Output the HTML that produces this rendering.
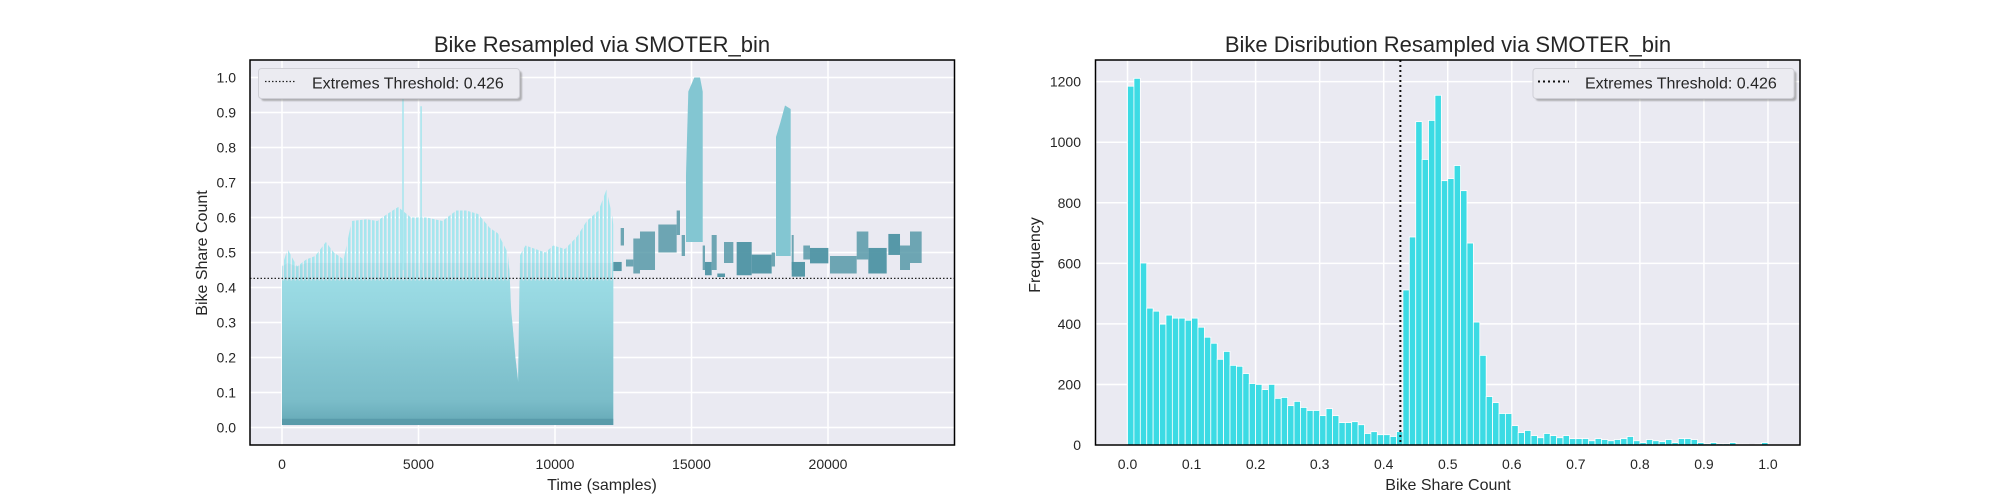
<!DOCTYPE html>
<html><head><meta charset="utf-8">
<style>
html,body{margin:0;padding:0;background:#fff;}
svg{display:block;font-family:"Liberation Sans",Arial,sans-serif;}
</style></head>
<body>
<svg id="fig" width="2000" height="500" viewBox="0 0 2000 500">
  <defs>
    <linearGradient id="dotGrad" x1="0" y1="1" x2="0" y2="0">
      <stop offset="0" stop-color="#4f93a3" stop-opacity="0.75"/>
      <stop offset="0.15" stop-color="#4f93a3" stop-opacity="0.5"/>
      <stop offset="0.4" stop-color="#4f93a3" stop-opacity="0.38"/>
      <stop offset="0.7" stop-color="#4f93a3" stop-opacity="0.2"/>
      <stop offset="1" stop-color="#4f93a3" stop-opacity="0.08"/>
    </linearGradient>
    <pattern id="stripes" patternUnits="userSpaceOnUse" width="4" height="10">
      <rect x="0" y="0" width="2.6" height="10" fill="#a6e6ee"/>
    </pattern>
    <filter id="sh" x="-10%" y="-10%" width="130%" height="150%"><feGaussianBlur stdDeviation="0.8"/></filter>
  </defs>
  <rect x="250" y="60" width="704.5" height="385" fill="#eaeaf2"/>
  <rect x="1095.5" y="60" width="704.5" height="385" fill="#eaeaf2"/>
  <g id="lgrid"></g>
  <g id="rgrid"></g>
  <g id="lmarks"></g>
  <g id="rmarks"></g>
  <line x1="250" x2="954.5" y1="278.4" y2="278.4" stroke="#222" stroke-width="1.2" stroke-dasharray="1.5,2"/>
  <line id="rthr" x1="1400" x2="1400" y1="60" y2="445" stroke="#111" stroke-width="2" stroke-dasharray="2,3"/>
  <rect x="250" y="60" width="704.5" height="385" fill="none" stroke="#000" stroke-width="1.5"/>
  <rect x="1095.5" y="60" width="704.5" height="385" fill="none" stroke="#000" stroke-width="1.5"/>
  <g id="lticks" font-size="14" fill="#262626"></g>
  <g id="rticks" font-size="14" fill="#262626"></g>
  <text x="602" y="52" font-size="22" text-anchor="middle" fill="#262626">Bike Resampled via SMOTER_bin</text>
  <text x="1448" y="52" font-size="22" text-anchor="middle" fill="#262626">Bike Disribution Resampled via SMOTER_bin</text>
  <text x="602" y="490" font-size="16" text-anchor="middle" fill="#262626">Time (samples)</text>
  <text x="1448" y="490" font-size="16" text-anchor="middle" fill="#262626">Bike Share Count</text>
  <text transform="translate(207,253) rotate(-90)" font-size="16" text-anchor="middle" fill="#262626">Bike Share Count</text>
  <text transform="translate(1040,255) rotate(-90)" font-size="16" text-anchor="middle" fill="#262626">Frequency</text>
  <g>
    <rect x="261" y="71" width="261" height="30" rx="3" fill="#888" opacity="0.6" filter="url(#sh)"/>
    <rect x="258.5" y="68.5" width="261" height="30" rx="3" fill="#ebebf1" stroke="#cfcfd6" stroke-width="1"/>
    <line x1="265" x2="296" y1="81.5" y2="81.5" stroke="#222" stroke-width="1.2" stroke-dasharray="1.5,2"/>
    <text x="312" y="88.5" font-size="16" fill="#262626">Extremes Threshold: 0.426</text>
  </g>
  <g>
    <rect x="1535.5" y="71" width="261" height="30" rx="3" fill="#888" opacity="0.6" filter="url(#sh)"/>
    <rect x="1533" y="68.5" width="261" height="30" rx="3" fill="#ebebf1" stroke="#cfcfd6" stroke-width="1"/>
    <line x1="1538" x2="1569" y1="81.5" y2="81.5" stroke="#111" stroke-width="2" stroke-dasharray="2,3"/>
    <text x="1585" y="88.5" font-size="16" fill="#262626">Extremes Threshold: 0.426</text>
  </g>
</svg>
<script>
// ---- Left chart data ----
const envSamples = [0,203,550,884,1218,1608,1898,2260,2549,3099,3490,3853,4256,4721,5300,5879,6385,6747,7183,7615,7905,8267,8330,8400,8550,8650,8703,8919,9282,9645,9934,10366,10802,11164,11597,11886,12106,12133];
const envValues  = [0.46,0.51,0.46,0.48,0.49,0.53,0.50,0.48,0.59,0.595,0.59,0.61,0.63,0.60,0.60,0.59,0.62,0.62,0.61,0.57,0.555,0.50,0.45,0.33,0.20,0.13,0.49,0.52,0.51,0.50,0.52,0.51,0.545,0.59,0.62,0.68,0.60,0.58];
const spikeSamples = [4432,5095];
const spikeValues  = [0.94,0.918];
const clusterStart = [12136,12405,12600,12869,13113,13785,14456,14639,15409,15494,15738,15946,16190,16654,17204,17936,18669,18669,19096,19340,20073,21050,21477,22210,22637,23003];
const clusterEnd   = [12442,12527,12869,13113,13663,14456,14578,14761,15494,15738,15922,16227,16532,17204,17936,18058,18730,19157,19340,20012,21050,21477,22149,22637,23003,23430];
const clusterLow   = [0.447,0.52,0.46,0.44,0.45,0.50,0.55,0.49,0.45,0.435,0.45,0.43,0.47,0.435,0.44,0.46,0.45,0.431,0.48,0.469,0.44,0.48,0.44,0.493,0.45,0.47];
const clusterHigh  = [0.473,0.57,0.48,0.54,0.56,0.58,0.62,0.55,0.52,0.473,0.55,0.44,0.53,0.53,0.494,0.50,0.55,0.473,0.52,0.513,0.49,0.56,0.513,0.553,0.52,0.56];
const clusterDense = [1,0,0,0,0,0,0,0,0,1,0,1,0,1,1,0,0,1,0,1,0,0,1,1,0,0];
const peak1Samples = [14798,14884,15103,15311,15409];
const peak1Top     = [0.72,0.96,1.0,1.0,0.96];
const peak1Bottom  = 0.53;
const peak2Samples = [18095,18250,18425,18632];
const peak2Top     = [0.83,0.87,0.92,0.91];
const peak2Bottom  = 0.49;
const leftXTicks = [0,5000,10000,15000,20000];
const leftXTickLabels = ["0","5000","10000","15000","20000"];
const leftYTicks = [0,0.1,0.2,0.3,0.4,0.5,0.6,0.7,0.8,0.9,1.0];
const leftYTickLabels = ["0.0","0.1","0.2","0.3","0.4","0.5","0.6","0.7","0.8","0.9","1.0"];
const threshold = 0.426;
// ---- Right chart data ----
const binCounts = [1185,1211,601,452,442,399,429,419,419,412,419,389,356,336,283,309,263,260,236,203,200,183,200,154,157,130,144,124,114,114,97,120,97,74,74,77,67,38,44,34,34,28,44,512,687,1068,943,1072,1155,873,880,923,840,667,406,296,160,140,104,104,64,41,48,31,24,38,31,24,31,21,21,21,14,21,18,14,18,21,28,14,8,18,14,11,18,8,21,21,18,8,4,8,4,4,8,3,3,0,3,8];
const rightXTicks = [0,0.1,0.2,0.3,0.4,0.5,0.6,0.7,0.8,0.9,1.0];
const rightXTickLabels = ["0.0","0.1","0.2","0.3","0.4","0.5","0.6","0.7","0.8","0.9","1.0"];
const rightYTicks = [0,200,400,600,800,1000,1200];
const rightYTickLabels = ["0","200","400","600","800","1000","1200"];

const NS="http://www.w3.org/2000/svg";
function mk(tag,attrs,parent){const e=document.createElementNS(NS,tag);for(const k in attrs)e.setAttribute(k,attrs[k]);parent.appendChild(e);return e;}
const LX0=250,LX1=954.5,AY0=445,AY1=60;
const lxmin=-1172,lxmax=24633,lymin=-0.05,lymax=1.05;
function lx(s){return LX0+(s-lxmin)/(lxmax-lxmin)*(LX1-LX0);}
function ly(v){return AY0-(v-lymin)/(lymax-lymin)*(AY0-AY1);}
const RX0=1095.5,RX1=1800;
const rxmin=-0.05,rxmax=1.05;
const rymax=Math.max(...binCounts)*1.05;
function rx(v){return RX0+(v-rxmin)/(rxmax-rxmin)*(RX1-RX0);}
function ry(c){return AY0-c/rymax*(AY0-AY1);}

const lgrid=document.getElementById('lgrid'),rgrid=document.getElementById('rgrid');
const lmarks=document.getElementById('lmarks'),rmarks=document.getElementById('rmarks');
const lticks=document.getElementById('lticks'),rticks=document.getElementById('rticks');

leftXTicks.forEach((t,i)=>{
  const g=mk('line',{x1:lx(t),x2:lx(t),y1:AY1,y2:AY0,stroke:'#fff','stroke-width':1.5},lgrid);
  
  
  const tx=mk('text',{x:lx(t),y:469,'text-anchor':'middle'},lticks);
  tx.textContent=leftXTickLabels[i];
  
  
});
leftYTicks.forEach((t,i)=>{
  const g=mk('line',{x1:LX0,x2:LX1,y1:ly(t),y2:ly(t),stroke:'#fff','stroke-width':1.5},lgrid);
  
  
  const tx=mk('text',{x:236,y:ly(t)+5,'text-anchor':'end'},lticks);
  tx.textContent=leftYTickLabels[i];
  
  
});
rightXTicks.forEach((t,i)=>{
  const g=mk('line',{x1:rx(t),x2:rx(t),y1:AY1,y2:AY0,stroke:'#fff','stroke-width':1.5},rgrid);
  
  
  const tx=mk('text',{x:rx(t),y:469,'text-anchor':'middle'},rticks);
  tx.textContent=rightXTickLabels[i];
  
  
});
rightYTicks.forEach((t,i)=>{
  const g=mk('line',{x1:RX0,x2:RX1,y1:ry(t),y2:ry(t),stroke:'#fff','stroke-width':1.5},rgrid);
  
  
  const tx=mk('text',{x:1081,y:ry(t)+5,'text-anchor':'end'},rticks);
  tx.textContent=rightYTickLabels[i];
  
  
});

const base=0.007;
function poly(vals,cap){
  let p=envSamples.map((s,i)=>lx(s)+','+ly(Math.min(vals[i],cap)));
  p.push(lx(envSamples[envSamples.length-1])+','+ly(base));
  p.push(lx(envSamples[0])+','+ly(base));
  return p.join(' ');
}
const env=mk('polygon',{points:poly(envValues,2),fill:'url(#stripes)'},lmarks);


const core=mk('polygon',{points:poly(envValues,0.42),fill:'#a6e6ee'},lmarks);


const dots=mk('polygon',{points:poly(envValues,0.47),fill:'url(#dotGrad)'},lmarks);


const band=mk('rect',{x:lx(envSamples[0]),y:ly(0.025),width:lx(envSamples[envSamples.length-1])-lx(envSamples[0]),height:ly(base)-ly(0.025),fill:'#5496a6','fill-opacity':0.75},lmarks);


spikeSamples.forEach((s,i)=>{
  const l=mk('line',{x1:lx(s),x2:lx(s),y1:ly(0.45),y2:ly(spikeValues[i]),stroke:'#a6e6ee','stroke-width':1.5},lmarks);
  
  
});
function peak(samples,tops,bottom,name){
  let p=samples.map((s,i)=>lx(s)+','+ly(tops[i]));
  p.push(lx(samples[samples.length-1])+','+ly(bottom));
  p.push(lx(samples[0])+','+ly(bottom));
  const a=mk('polygon',{points:p.join(' '),fill:'#9fe2eb'},lmarks);
  
  
  const b=mk('polygon',{points:p.join(' '),fill:'#4f93a3','fill-opacity':0.35},lmarks);
  
  
}
peak(peak1Samples,peak1Top,peak1Bottom,'peak-1');
peak(peak2Samples,peak2Top,peak2Bottom,'peak-2');
clusterStart.forEach((s,i)=>{
  const r=mk('rect',{x:lx(s),y:ly(clusterHigh[i]),width:Math.max(2,lx(clusterEnd[i])-lx(s)),height:Math.max(2,ly(clusterLow[i])-ly(clusterHigh[i])),fill:'#4e93a3','fill-opacity':clusterDense[i]?0.95:0.8},lmarks);
  
  
});

binCounts.forEach((c,i)=>{
  const x0=rx(i*0.01),x1=rx((i+1)*0.01);
  const r=mk('rect',{x:x0,y:ry(c),width:x1-x0,height:AY0-ry(c),fill:'#3cdbe4',stroke:'#ffffff','stroke-width':0.8},rmarks);
  
  
});
const rt=document.getElementById('rthr');
rt.setAttribute('x1',rx(threshold));rt.setAttribute('x2',rx(threshold));
</script>
</body></html>
